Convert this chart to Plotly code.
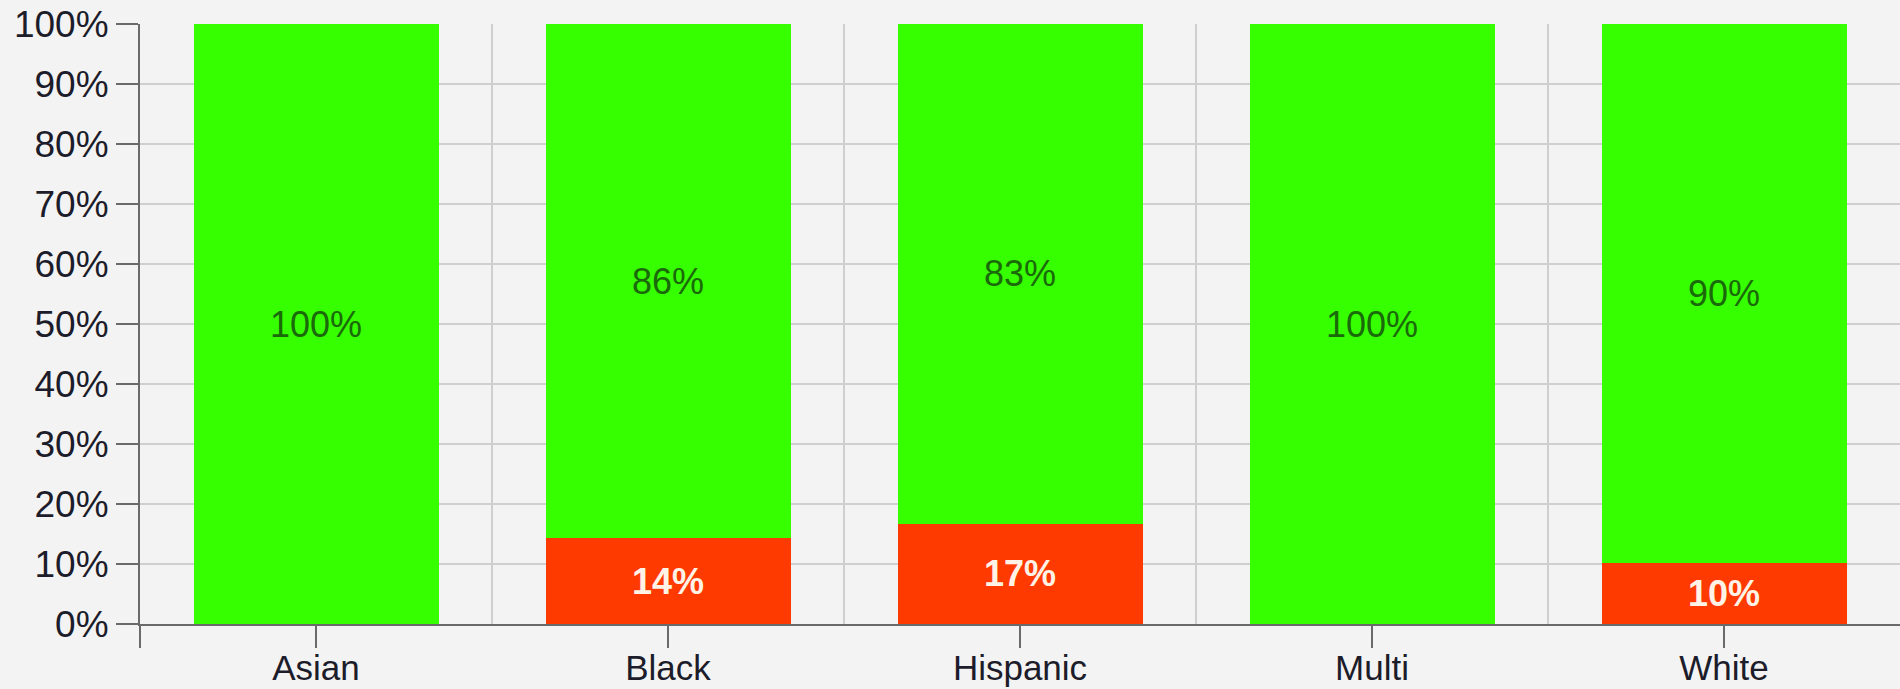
import plotly.graph_objects as go

categories = ["Asian", "Black", "Hispanic", "Multi", "White"]
below_values = [0, 14.3, 16.7, 0, 10.1]      # red segment (%)
above_values = [100, 85.7, 83.3, 100, 89.9]  # green segment (%)
y_ticks = [0, 10, 20, 30, 40, 50, 60, 70, 80, 90, 100]

x_pos = list(range(len(categories)))

def labels(vals):
    return ["" if v == 0 else f"{round(v)}%" for v in vals]

FONT = "Liberation Sans, Arial, sans-serif"
BG = "#f4f3f4"

# outer (domain-end) tick at the left end of the x axis, like a d3 axis
x_tickvals = [-0.5] + x_pos
x_ticktext = [""] + categories

fig = go.Figure()
fig.add_trace(go.Bar(
    x=x_pos, y=below_values, marker=dict(color="#ff3a00", line=dict(width=0)),
    text=labels(below_values), textposition="inside", insidetextanchor="middle",
    textangle=0,
    textfont=dict(family=FONT, size=36, color="#fff2e6", weight="bold"),
    hoverinfo="skip", showlegend=False,
))
fig.add_trace(go.Bar(
    x=x_pos, y=above_values, marker=dict(color="#36ff00", line=dict(width=0)),
    text=labels(above_values), textposition="inside", insidetextanchor="middle",
    textangle=0,
    textfont=dict(family=FONT, size=36, color="#1a6a0a"),
    hoverinfo="skip", showlegend=False,
))

fig.update_layout(
    width=1900, height=689,
    barmode="stack", bargap=0.304,
    paper_bgcolor=BG, plot_bgcolor=BG,
    margin=dict(l=140, r=0, t=24, b=65, autoexpand=False),
    font=dict(family=FONT, size=36, color="#1c1c2a"),
    xaxis=dict(
        range=[-0.5, len(categories) - 0.5], automargin=False,
        tickmode="array", tickvals=x_tickvals, ticktext=x_ticktext,
        showgrid=False, zeroline=False,
        showline=True, linecolor="#6a6a6a", linewidth=2,
        ticks="outside", ticklen=22, tickwidth=2, tickcolor="#6a6a6a",
        ticklabelstandoff=-10,
        minor=dict(tickmode="linear", tick0=0.5, dtick=1, showgrid=True,
                   gridcolor="#cfcfcf", gridwidth=2, ticks=""),
        tickfont=dict(size=35, color="#1c1c2a"),
    ),
    yaxis=dict(
        range=[0, 100], tickmode="array", tickvals=y_ticks, automargin=False,
        ticktext=[f"{v}%" for v in y_ticks],
        showgrid=True, gridcolor="#cfcfcf", gridwidth=2, zeroline=False,
        showline=True, linecolor="#6a6a6a", linewidth=2,
        ticks="outside", ticklen=22, tickwidth=2, tickcolor="#6a6a6a",
        tickfont=dict(size=37, color="#1c1c2a"),
    ),
)

fig.write_html(
    "out.html",
    config={"displayModeBar": False},
    post_script=(
        "document.body.style.margin='0';"
        "document.body.style.background='" + BG + "';"
    ),
)
